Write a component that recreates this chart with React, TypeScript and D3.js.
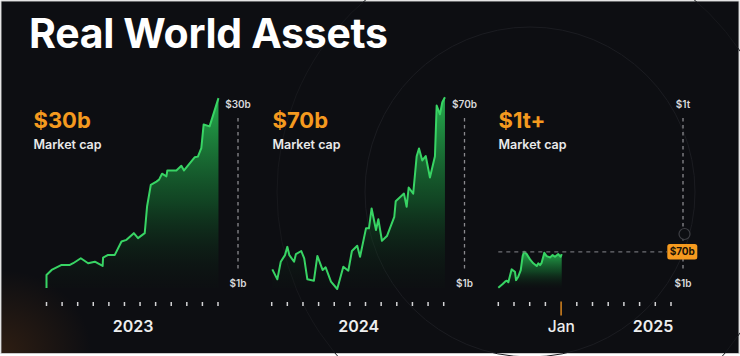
import React from "react";
import * as d3 from "d3";

// ---- data (months from start of panel, values in $b) ----
const p1Months = [0, 0, 0.33, 0.97, 1.5, 1.71, 2.2, 2.67, 3.1, 3.6, 3.63, 3.95, 4.38, 4.81, 5.13, 5.6, 5.87, 6.3, 6.45, 6.69, 7.05, 7.22, 7.41, 7.69, 7.75, 8.33, 8.65, 8.82, 9.5, 9.71, 9.93, 10.08, 10.46, 11.03];
const p1Values = [1, 2.98, 3.75, 4.51, 4.51, 4.77, 5.53, 4.77, 5.01, 4.36, 5.62, 6.04, 6.04, 8.07, 8.33, 9.35, 8.59, 9.35, 13.4, 16.7, 17.2, 17.5, 18.4, 18.0, 18.9, 18.9, 19.6, 18.9, 20.9, 21.0, 22.3, 25.9, 25.6, 29.9];

const p2Months = [0.04, 0.36, 0.58, 0.85, 1.0, 1.13, 1.43, 1.55, 1.89, 2.08, 2.28, 2.7, 2.92, 3.26, 3.45, 3.79, 4.19, 4.58, 4.9, 5.13, 5.47, 5.65, 6.03, 6.22, 6.39, 6.67, 6.82, 7.05, 7.37, 7.84, 7.93, 8.46, 8.63, 8.76, 9.05, 9.27, 9.42, 9.63, 9.85, 10.12, 10.44, 10.55, 10.76, 10.91, 11.08];
const p2Values = [7.76, 4.14, 10.5, 12.9, 15.9, 12.9, 10.5, 13.3, 14.4, 11.7, 4.14, 3.64, 12.6, 7.5, 8.48, 3.28, 0.64, 8.7, 7.25, 14.4, 16.3, 12.3, 22.6, 22.6, 29.8, 22.0, 25.9, 18.1, 19.8, 26.8, 32.4, 35.2, 30.4, 37.4, 35.2, 48.7, 51.5, 47.2, 48.8, 41.0, 48.7, 67.1, 63.9, 68.3, 70.1];

const p3Months = [0, 0.28, 0.43, 0.54, 0.64, 0.85, 1.06, 1.13, 1.27, 1.43, 1.55, 1.64, 1.81, 2.02, 2.23, 2.45, 2.55, 2.66, 2.76, 2.93, 3.08, 3.29, 3.46, 3.61, 3.82, 3.97, 4.04];
const p3Values = [1.6, 8.6, 13, 15, 12, 36.5, 32, 16, 22.5, 35, 61.8, 70, 65.6, 55.5, 48, 42.8, 48, 44.7, 49, 68, 61.8, 59.3, 63.7, 60.5, 65.6, 60.5, 65.6];

const tickMonths = d3.range(12);
const headlines = ["$30b", "$70b", "$1t+"];
const topLabels = ["$30b", "$70b", "$1t"];
const bottomLabels = ["$1b", "$1b", "$1b"];
const yMaxes = [30, 70, 364];
const yearLabels = ["2023", "2024", "Jan", "2025"];
const currentValue = 70;
const currentLabel = "$70b";
const janTick = 4;

const GREEN = "#38d464";
const ORANGE = "#f59a1f";
const FONT = "Inter, 'Noto Sans', sans-serif";

type Panel = {
  months: number[];
  values: number[];
  x0: number;
  x1: number;
  axisX: number;
  textX: number;
};

const panels: Panel[] = [
  { months: p1Months, values: p1Values, x0: 46.5, x1: 218, axisX: 238, textX: 33.5 },
  { months: p2Months, values: p2Values, x0: 271.7, x1: 443.7, axisX: 464.5, textX: 272.5 },
  { months: p3Months, values: p3Values, x0: 498.3, x1: 671, axisX: 683, textX: 498.5 },
];

export default function App() {
  const W = 740;
  const H = 356;
  const yBottom = 288;
  const yTop = 97.5;

  return (
    <svg
      width={W}
      height={H}
      style={{ position: "fixed", left: 0, top: 0, display: "block" }}
      fontFamily={FONT}
    >
      <defs>
        <linearGradient id="areaGrad" x1="0" y1="0" x2="0" y2="1">
          <stop offset="0%" stopColor="#27b852" stopOpacity={0.95} />
          <stop offset="55%" stopColor="#14662e" stopOpacity={0.6} />
          <stop offset="100%" stopColor="#0b1a10" stopOpacity={0.1} />
        </linearGradient>
        <radialGradient id="glow" cx="0" cy="1" r="1">
          <stop offset="0%" stopColor="#6b3a12" stopOpacity={0.35} />
          <stop offset="100%" stopColor="#6b3a12" stopOpacity={0} />
        </radialGradient>
      </defs>
      <rect x={0} y={0} width={W} height={H} fill="#ffffff" />
      <rect x={1} y={1} width={738} height={352.5} fill="#0d0e12" stroke="#c9c9c9" strokeWidth={1} />
      <rect x={1.5} y={270} width={90} height={83} fill="url(#glow)" />
      {/* faint decorative circles */}
      <circle cx={530} cy={192} r={165} fill="none" stroke="#1b1c21" strokeWidth={1} />
      <circle cx={530} cy={192} r={253} fill="none" stroke="#17181c" strokeWidth={1} />

      <text x={29} y={47.5} fill="#ffffff" fontSize={41} fontWeight={700} letterSpacing={-0.3}>
        Real World Assets
      </text>

      {panels.map((p, i) => {
        const x = d3.scaleLinear().domain([0, 11]).range([p.x0, p.x1]);
        const y = d3.scaleLinear().domain([1, yMaxes[i]]).range([yBottom, yTop]);
        const pts = p.months.map((m, k) => [m, p.values[k]] as [number, number]);
        const line = d3.line<[number, number]>().x((d) => x(d[0])).y((d) => y(d[1]));
        const area = d3
          .area<[number, number]>()
          .x((d) => x(d[0]))
          .y0(yBottom)
          .y1((d) => y(d[1]));
        return (
          <g key={i}>
            <text x={p.textX} y={127.5} fill={ORANGE} fontSize={22} fontWeight={700}>
              {headlines[i]}
            </text>
            <text x={p.textX} y={149} fill="#e9e9ea" fontSize={12.5} fontWeight={600}>
              Market cap
            </text>
            <path d={area(pts) || ""} fill="url(#areaGrad)" />
            <path d={line(pts) || ""} fill="none" stroke={GREEN} strokeWidth={2} strokeLinejoin="round" />
            {/* right value axis */}
            <line
              x1={p.axisX}
              x2={p.axisX}
              y1={118}
              y2={272}
              stroke="#8a8a8e"
              strokeWidth={1.3}
              strokeDasharray="3.5 3.5"
            />
            <text x={p.axisX} y={108} fill="#d9d9db" fontSize={10} fontWeight={600} textAnchor="middle">
              {topLabels[i]}
            </text>
            <text x={p.axisX} y={287} fill="#d9d9db" fontSize={10} fontWeight={600} textAnchor="middle">
              {bottomLabels[i]}
            </text>
            {/* month ticks */}
            {tickMonths.map((m) =>
              i === 2 && m === janTick ? (
                <line key={m} x1={x(m)} x2={x(m)} y1={301.5} y2={315.5} stroke="#d9861f" strokeWidth={1.5} />
              ) : (
                <line key={m} x1={x(m)} x2={x(m)} y1={302} y2={306} stroke="#d4d4d6" strokeWidth={1.5} />
              )
            )}
            {i === 2 && (() => {
              const yc = y(currentValue);
              return (
                <g>
                  <line
                    x1={p.x0}
                    x2={667}
                    y1={yc}
                    y2={yc}
                    stroke="#6e6f74"
                    strokeWidth={1.3}
                    strokeDasharray="4 4"
                  />
                  <circle cx={684.5} cy={234} r={5.5} fill="#0d0e12" stroke="#3e3f44" strokeWidth={1.2} />
                  <rect x={667.3} y={yc - 7.7} width={30} height={15.4} rx={2.5} fill={ORANGE} />
                  <text
                    x={682.3}
                    y={yc + 3.6}
                    fill="#1a1206"
                    fontSize={10}
                    fontWeight={700}
                    textAnchor="middle"
                  >
                    {currentLabel}
                  </text>
                </g>
              );
            })()}
          </g>
        );
      })}

      {/* year labels */}
      <text x={133} y={331.5} fill="#eeeeef" fontSize={16} fontWeight={600} textAnchor="middle">
        {yearLabels[0]}
      </text>
      <text x={358.7} y={331.5} fill="#eeeeef" fontSize={16} fontWeight={600} textAnchor="middle">
        {yearLabels[1]}
      </text>
      <text x={561.3} y={331.5} fill="#eeeeef" fontSize={15.5} fontWeight={500} textAnchor="middle">
        {yearLabels[2]}
      </text>
      <text x={653} y={331.5} fill="#eeeeef" fontSize={16} fontWeight={600} textAnchor="middle">
        {yearLabels[3]}
      </text>
    </svg>
  );
}
